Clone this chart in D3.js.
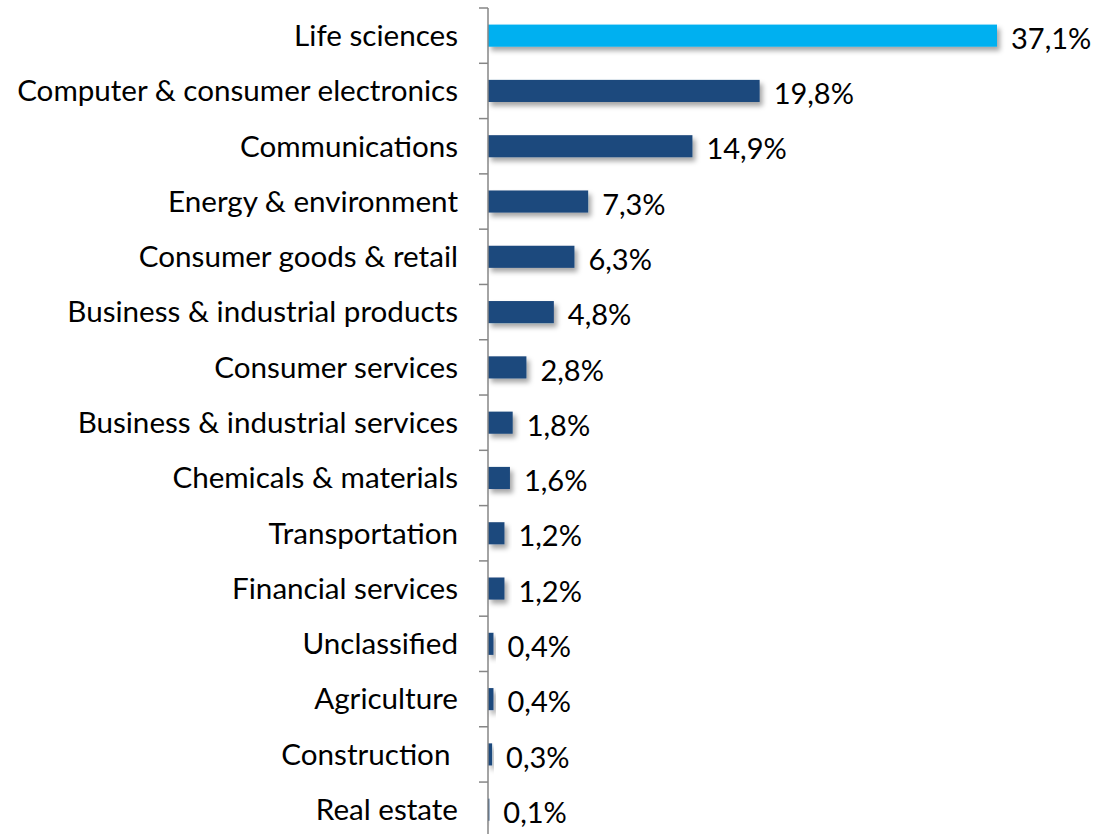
<!DOCTYPE html>
<html><head><meta charset="utf-8">
<script src="https://cdn.jsdelivr.net/npm/d3@7"></script>
<style>body{margin:0;background:#fff}svg{display:block}text{white-space:pre}</style>
</head><body>
<script>
const categories = ["Life sciences","Computer & consumer electronics","Communications","Energy & environment","Consumer goods & retail","Business & industrial products","Consumer services","Business & industrial services","Chemicals & materials","Transportation","Financial services","Unclassified","Agriculture","Construction ","Real estate"];
const values = [37.1,19.8,14.9,7.3,6.3,4.8,2.8,1.8,1.6,1.2,1.2,0.4,0.4,0.3,0.1];
const labels = ["37,1%","19,8%","14,9%","7,3%","6,3%","4,8%","2,8%","1,8%","1,6%","1,2%","1,2%","0,4%","0,4%","0,3%","0,1%"];

const W=1095,H=834;
const svg=d3.select("body").append("svg").attr("width",W).attr("height",H);
const defs=svg.append("defs");
const f=defs.append("filter").attr("id","sh").attr("x","-20%").attr("y","-50%").attr("width","160%").attr("height","250%");
f.append("feDropShadow").attr("dx",3).attr("dy",4).attr("stdDeviation",2.5).attr("flood-color","#000").attr("flood-opacity",0.35);

const x0=488;
const x=d3.scaleLinear().domain([0,37.1]).range([x0,997]);
const y=d3.scaleBand().domain(categories).range([8,8+15*55.29]).paddingInner(0.6).paddingOuter(0.3);
const yb=d3.scaleBand().domain(categories).range([8,8+15*55.29]);

const font="Lato, 'Open Sans', sans-serif";
svg.selectAll("rect.bar").data(categories).join("rect")
 .attr("x",x0).attr("y",d=>y(d)).attr("width",(d,i)=>x(values[i])-x0).attr("height",y.bandwidth())
 .attr("fill",(d,i)=>i===0?"#00B0F0":"#1F497D").attr("filter","url(#sh)");

const g=svg.append("g");
g.append("line").attr("x1",x0).attr("x2",x0).attr("y1",8).attr("y2",H).attr("stroke","#868686").attr("stroke-width",1.5);
const ticks=d3.range(0,16).map(k=>8+k*yb.step());
g.selectAll("line.t").data(ticks).join("line").attr("x1",x0-9).attr("x2",x0).attr("y1",d=>d).attr("y2",d=>d).attr("stroke","#868686").attr("stroke-width",1.5);

svg.selectAll("text.cat").data(categories).join("text")
 .attr("x",458).attr("y",d=>yb(d)+yb.bandwidth()/2).attr("dy","0.35em").attr("text-anchor","end")
 .attr("font-family",font).attr("font-size",29.6).attr("fill","#000").text(d=>d);

svg.selectAll("text.val").data(categories).join("text")
 .attr("x",(d,i)=>x(values[i])+14).attr("y",d=>yb(d)+yb.bandwidth()/2+3).attr("dy","0.35em")
 .attr("font-family",font).attr("font-size",29).attr("fill","#000").text((d,i)=>labels[i]);
</script>
</body></html>
